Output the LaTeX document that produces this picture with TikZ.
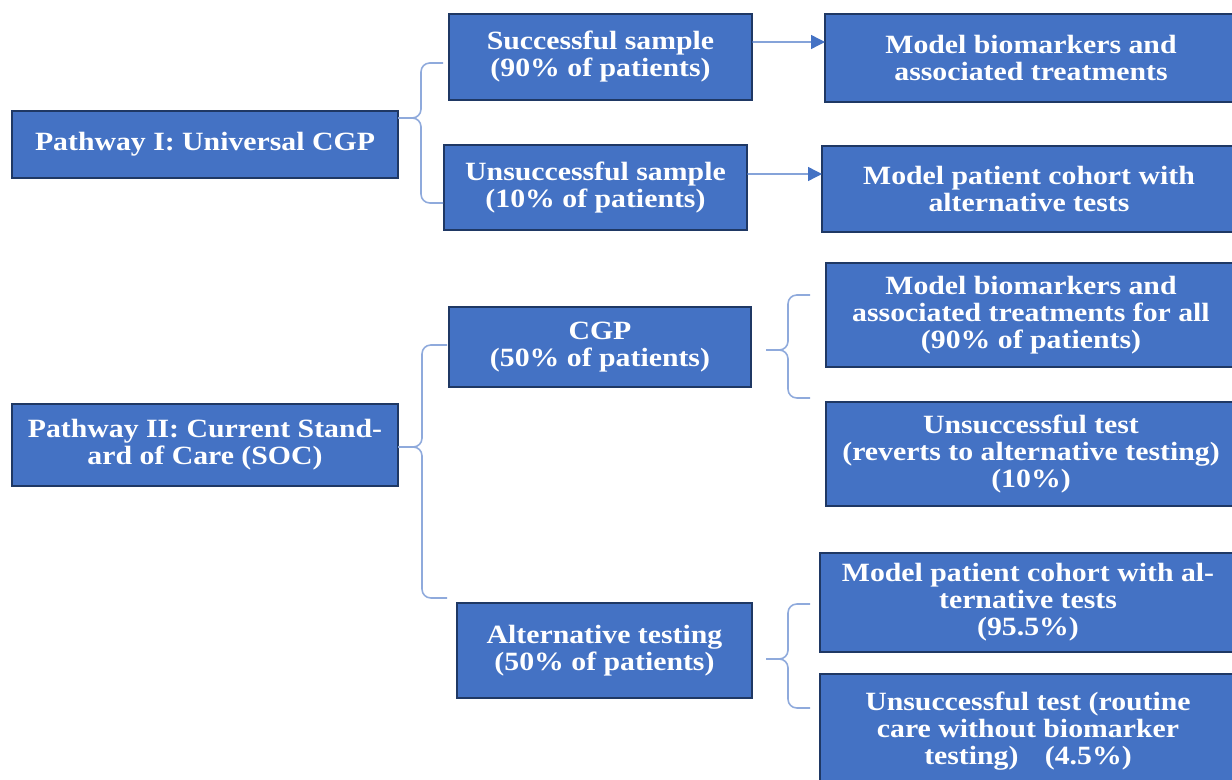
\documentclass[tikz,border=0pt]{standalone}
\usepackage{fontspec}
\setmainfont{Liberation Serif}[FakeStretch=1.13]
\usepackage{tikz}
\usetikzlibrary{arrows.meta}
\definecolor{boxBlue}{HTML}{4472C4}
\definecolor{boxEdge}{HTML}{1F3864}
\definecolor{braceBlue}{HTML}{8FAADC}

\begin{document}
\begin{tikzpicture}[
    x=0.02cm, y=-0.02cm,
    box/.style={draw=boxEdge, line width=1.1pt, fill=boxBlue, text=white,
                align=center, inner sep=0pt, outer sep=0pt,
                font=\bfseries\fontsize{15}{15.4}\selectfont},
    sz/.style 2 args={minimum width=#1*0.02cm, minimum height=#2*0.02cm},
    brace/.style={draw=braceBlue, line width=0.9pt, rounded corners=5pt},
    arr/.style={draw=boxBlue, line width=0.8pt, -{Triangle[length=2.8mm,width=2.8mm]}}
]
    \useasboundingbox (0,0) rectangle (1232,780);

    % Pathway I
    \node[box, sz={386}{67}] (p1) at (205,144.5) {Pathway I: Universal CGP};
    \node[box, sz={303}{86}] (succ) at (600.5,57) {Successful sample\\(90\% of patients)};
    \node[box, sz={303}{85}] (unsucc) at (595.5,187.5) {Unsuccessful sample\\(10\% of patients)};
    \node[box, sz={412}{88}] (mb1) at (1031,58) {Model biomarkers and\\associated treatments};
    \node[box, sz={414}{86}] (mpc1) at (1029,189) {Model patient cohort with\\alternative tests};

    % Pathway II
    \node[box, sz={386}{82}] (p2) at (205,445) {Pathway II: Current Stand-\\ard of Care (SOC)};
    \node[box, sz={302}{80}] (cgp) at (600,347) {CGP\\(50\% of patients)};
    \node[box, sz={295}{95}] (alt) at (604.5,650.5) {Alternative testing\\(50\% of patients)};
    \node[box, sz={410}{104}] (mb2) at (1031,315) {Model biomarkers and\\associated treatments for all\\(90\% of patients)};
    \node[box, sz={410}{104}] (ut1) at (1031,454) {Unsuccessful test\\(reverts to alternative testing)\\(10\%)};
    \node[box, sz={416}{99}] (mpc2) at (1028,602.5) {Model patient cohort with al-\\ternative tests\\(95.5\%)};
    \node[box, sz={416}{114}] (ut2) at (1028,731) {Unsuccessful test (routine\\care without biomarker\\testing)\quad(4.5\%)};

    % brace ends
    \coordinate (b1a) at (443,63);
    \coordinate (b1b) at (443,203);
    \coordinate (b2a) at (447,345);
    \coordinate (b2b) at (447,598);
    \coordinate (b3a) at (810,295);
    \coordinate (b3b) at (810,398);
    \coordinate (b4a) at (810,604);
    \coordinate (b4b) at (810,708);

    \draw[brace] (b1a) -- (421,63) -- (421,118) -- ([yshift=0.53cm]p1.east);
    \draw[brace] ([yshift=0.53cm]p1.east) -- (421,118) -- (421,203) -- (b1b);
    \draw[brace] (b2a) -- (422,345) -- (422,447) -- ([yshift=-0.04cm]p2.east);
    \draw[brace] ([yshift=-0.04cm]p2.east) -- (422,447) -- (422,598) -- (b2b);
    \draw[brace] (b3a) -- (788,295) -- (788,350) -- ([xshift=0.3cm,yshift=-0.06cm]cgp.east);
    \draw[brace] ([xshift=0.3cm,yshift=-0.06cm]cgp.east) -- (788,350) -- (788,398) -- (b3b);
    \draw[brace] (b4a) -- (788,604) -- (788,659) -- ([xshift=0.28cm,yshift=-0.17cm]alt.east);
    \draw[brace] ([xshift=0.28cm,yshift=-0.17cm]alt.east) -- (788,659) -- (788,708) -- (b4b);

    \draw[arr] ([yshift=0.3cm]succ.east) -- ([yshift=0.32cm]mb1.west);
    \draw[arr] ([yshift=0.27cm]unsucc.east) -- ([yshift=0.3cm]mpc1.west);
\end{tikzpicture}
\end{document}
